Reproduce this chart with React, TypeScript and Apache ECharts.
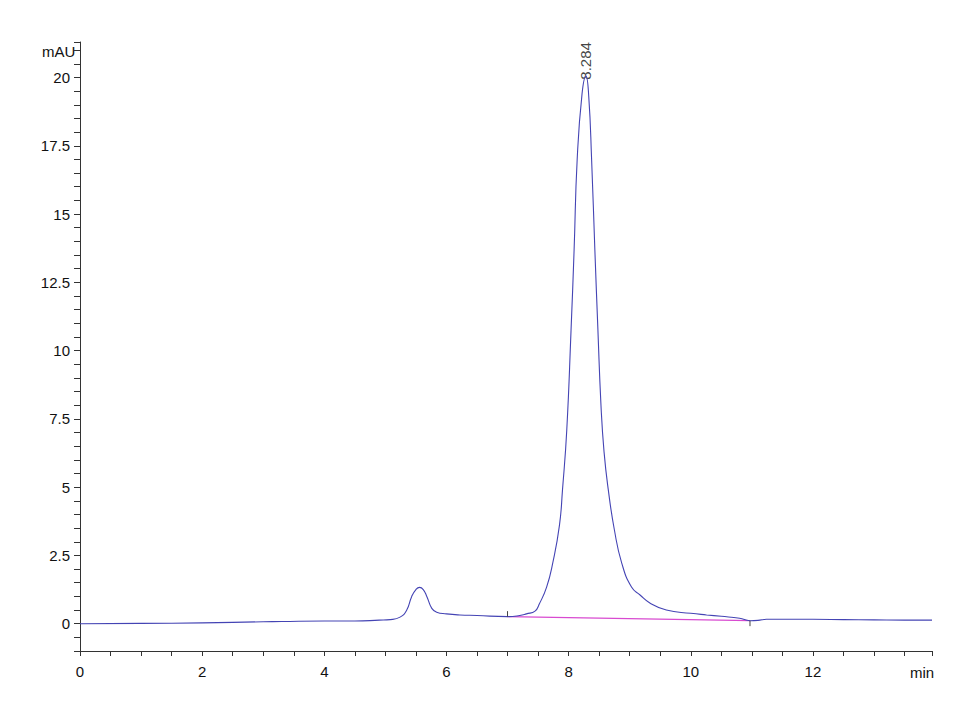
import React, { useEffect, useRef } from "react";
import * as echarts from "echarts";

const times = [0, 1, 2, 3, 3.3, 4, 4.5, 4.9, 5.08, 5.24, 5.35, 5.43, 5.5, 5.56, 5.62, 5.68, 5.76, 5.84, 6.0, 6.22, 6.5, 7.0, 7.2, 7.31, 7.45, 7.52, 7.64, 7.74, 7.85, 7.9, 7.97, 8.04, 8.09, 8.14, 8.22, 8.284, 8.33, 8.377, 8.43, 8.48, 8.53, 8.58, 8.65, 8.75, 8.87, 9.03, 9.17, 9.33, 9.6, 10.0, 10.26, 10.5, 10.8, 10.97, 11.1, 11.24, 11.5, 12, 12.5, 13, 13.5, 13.95];
const signal = [0.0, 0.01, 0.03, 0.07, 0.08, 0.1, 0.1, 0.13, 0.15, 0.24, 0.5, 0.99, 1.25, 1.33, 1.25, 0.99, 0.56, 0.42, 0.36, 0.32, 0.3, 0.26, 0.3, 0.36, 0.46, 0.72, 1.34, 2.22, 3.6, 4.9, 7.09, 10.75, 13.68, 16.98, 19.4, 20.05, 19.3, 16.98, 13.68, 10.75, 8.0, 6.3, 4.9, 3.43, 2.22, 1.34, 1.05, 0.76, 0.5, 0.38, 0.32, 0.27, 0.2, 0.11, 0.12, 0.16, 0.16, 0.16, 0.15, 0.14, 0.13, 0.13];

const baselineTimes = [7.0, 10.97];
const baselineValues = [0.26, 0.11];

const peakTime = 8.284;
const peakValue = 20.05;
const peakLabel = "8.284";

const yLabelValues = [0, 2.5, 5, 7.5, 10, 12.5, 15, 17.5, 20];
const xLabelValues = [0, 2, 4, 6, 8, 10, 12];

const FONT = '"Liberation Sans Narrow", "Arial Narrow", "Liberation Sans", Arial, sans-serif';

export default function App() {
  const ref = useRef<HTMLDivElement>(null);
  useEffect(() => {
    if (!ref.current) return;
    const chart = echarts.init(ref.current, null, { renderer: "svg" });
    const lineData = times.map((t, i) => [t, signal[i]]);
    const baseData = baselineTimes.map((t, i) => [t, baselineValues[i]]);
    const markerStyle = { color: "#444", width: 1 };
    chart.setOption({
      animation: false,
      backgroundColor: "#fff",
      grid: { left: 80, right: 38, top: 42, bottom: 60, containLabel: false },
      xAxis: {
        type: "value",
        min: 0,
        max: 13.95,
        interval: 0.5,
        axisLine: { onZero: false, lineStyle: { color: "#333", width: 1 } },
        axisTick: { show: true, length: 5, lineStyle: { color: "#333" } },
        splitLine: { show: false },
        axisLabel: {
          margin: 13,
          color: "#111",
          fontFamily: FONT,
          fontSize: 15,
          formatter: (v: number) => (xLabelValues.some((x) => Math.abs(x - v) < 1e-6) ? String(v) : ""),
        },
      },
      yAxis: {
        type: "value",
        min: -1,
        max: 21.3,
        interval: 0.5,
        axisLine: { show: true, lineStyle: { color: "#333", width: 1 } },
        axisTick: { show: true, length: 6, lineStyle: { color: "#333" } },
        splitLine: { show: false },
        axisLabel: {
          margin: 10,
          color: "#111",
          fontFamily: FONT,
          fontSize: 15,
          formatter: (v: number) => (yLabelValues.some((y) => Math.abs(y - v) < 1e-6) ? String(v) : ""),
        },
      },
      graphic: [
        { type: "text", left: 42, top: 44, style: { text: "mAU", font: `15px ${FONT}`, fill: "#111" } },
        { type: "text", left: 910, top: 665, style: { text: "min", font: `15px ${FONT}`, fill: "#111" } },
      ],
      series: [
        {
          type: "line",
          data: baseData,
          symbol: "none",
          lineStyle: { color: "#d84ad0", width: 1.2 },
          silent: true,
        },
        {
          type: "line",
          data: lineData,
          symbol: "none",
          smooth: 0.5,
          lineStyle: { color: "#4444b4", width: 1.1 },
          silent: true,
        },
        {
          type: "line",
          data: [[baselineTimes[0], baselineValues[0]], [baselineTimes[0], baselineValues[0] + 0.2]],
          symbol: "none",
          lineStyle: markerStyle,
          silent: true,
        },
        {
          type: "line",
          data: [[baselineTimes[1], baselineValues[1]], [baselineTimes[1], baselineValues[1] - 0.2]],
          symbol: "none",
          lineStyle: markerStyle,
          silent: true,
        },
        {
          type: "scatter",
          data: [[peakTime, peakValue]],
          symbolSize: 1,
          itemStyle: { color: "rgba(0,0,0,0)" },
          silent: true,
          label: {
            show: true,
            formatter: peakLabel,
            position: "top",
            distance: -4,
            rotate: 90,
            align: "left",
            verticalAlign: "middle",
            fontFamily: FONT,
            fontSize: 15,
            color: "#111",
          },
        },
      ],
    });
    return () => chart.dispose();
  }, []);
  return <div ref={ref} style={{ position: "absolute", left: 0, top: 0, width: 970, height: 711 }} />;
}
